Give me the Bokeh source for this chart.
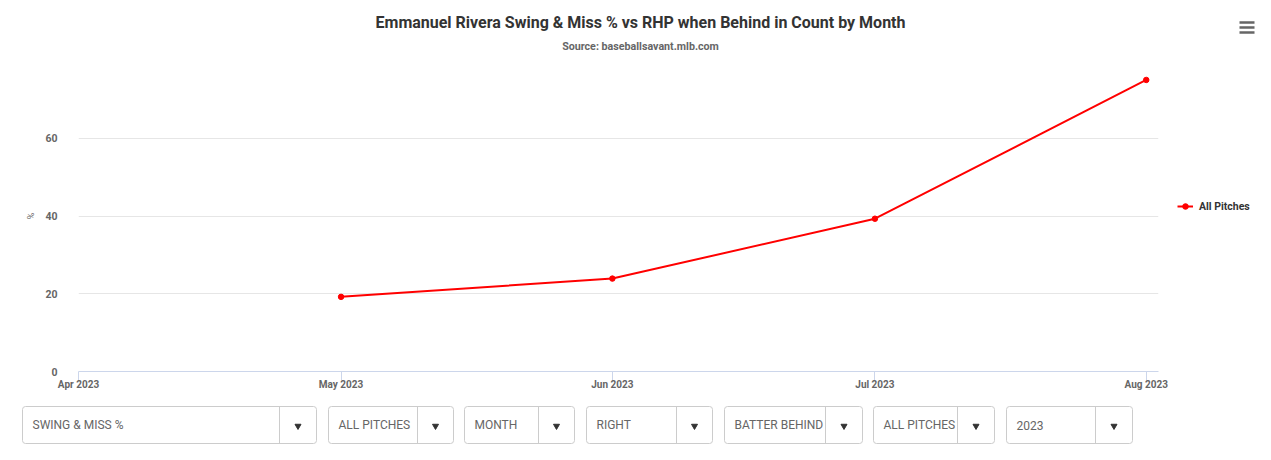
import pandas as pd
from bokeh.plotting import figure
from bokeh.models import (Range1d, FixedTicker, DatetimeTickFormatter, Label,
                          Legend, LegendItem, ColumnDataSource)
from bokeh.layouts import column
from bokeh.embed import file_html
from bokeh.resources import INLINE
from bokeh.core.properties import value

# ---------------- data ----------------
TITLE = "Emmanuel Rivera Swing & Miss % vs RHP when Behind in Count by Month"
SUBTITLE = "Source: baseballsavant.mlb.com"
SERIES_NAME = "All Pitches"
Y_LABEL = "%"
months = ["2023-05-01", "2023-06-01", "2023-07-01", "2023-08-01"]
swing_miss_pct = [19.2, 23.9, 39.3, 75.0]
x_tick_dates = ["2023-04-01", "2023-05-01", "2023-06-01", "2023-07-01", "2023-08-01"]
y_ticks = [0, 20, 40, 60]
control_labels = ["SWING & MISS %", "ALL PITCHES", "MONTH", "RIGHT",
                  "BATTER BEHIND", "ALL PITCHES", "2023"]

FONT = "Roboto"
W = 1255


def blank(fig):
    fig.axis.visible = False
    fig.grid.visible = False
    fig.outline_line_color = None
    fig.background_fill_color = "white"
    fig.border_fill_color = "white"
    fig.frame_align = False


# ---------------- header (title, subtitle, menu icon) ----------------
h = figure(width=W, height=60, output_backend="svg", toolbar_location=None,
           x_range=Range1d(0, W), y_range=Range1d(60, 0), min_border=0)
blank(h)
h.add_layout(Label(x=640, y=22, text=TITLE, text_align="center", text_baseline="middle",
                   text_font=FONT, text_font_size="16px", text_font_style="bold",
                   text_color="#333333"))
h.add_layout(Label(x=640, y=46, text=SUBTITLE, text_align="center", text_baseline="middle",
                   text_font=FONT, text_font_size="10.7px", text_font_style="bold",
                   text_color="#666666"))
h.segment(x0=[1239] * 3, x1=[1254] * 3, y0=[22, 27, 32], y1=[22, 27, 32],
          line_color="#666666", line_width=2.5)

# ---------------- main chart ----------------
src = ColumnDataSource(dict(x=pd.to_datetime(months), y=swing_miss_pct))

p = figure(frame_width=1080, frame_height=311, output_backend="svg",
           toolbar_location=None, x_axis_type="datetime",
           x_range=Range1d(pd.Timestamp(x_tick_dates[0]),
                           pd.Timestamp(x_tick_dates[-1]) + pd.Timedelta(days=1.4)),
           y_range=Range1d(0, 80),
           min_border_left=78, min_border_right=97,
           min_border_top=0, min_border_bottom=27)
p.outline_line_color = None
p.background_fill_color = "white"
p.border_fill_color = "white"
p.frame_align = False

p.xgrid.grid_line_color = None
p.ygrid.grid_line_color = "#e6e6e6"
p.ygrid.ticker = FixedTicker(ticks=y_ticks)

xa = p.xaxis[0]
xa.ticker = FixedTicker(ticks=[pd.Timestamp(d).timestamp() * 1000 for d in x_tick_dates])
fmt = "%b %Y"
xa.formatter = DatetimeTickFormatter(days=fmt, months=fmt, years=fmt, hours=fmt,
                                     minutes=fmt, seconds=fmt, milliseconds=fmt,
                                     microseconds=fmt, hourmin=fmt, minsec=fmt)
xa.axis_line_color = "#ccd6eb"
xa.major_tick_line_color = "#ccd6eb"
xa.major_tick_out = 9
xa.major_tick_in = 0
xa.minor_tick_line_color = None
xa.minor_tick_out = 0
xa.major_label_standoff = -2
xa.major_label_text_font = FONT
xa.major_label_text_font_size = "10px"
xa.major_label_text_font_style = "bold"
xa.major_label_text_color = "#666666"

ya = p.yaxis[0]
ya.ticker = FixedTicker(ticks=y_ticks)
ya.axis_line_color = None
ya.major_tick_line_color = None
ya.major_tick_out = 0
ya.major_tick_in = 0
ya.minor_tick_line_color = None
ya.minor_tick_out = 0
ya.major_label_standoff = 21
ya.major_label_text_font = FONT
ya.major_label_text_font_size = "10.5px"
ya.major_label_text_font_style = "bold"
ya.major_label_text_color = "#666666"
ya.axis_label = Y_LABEL
ya.axis_label_text_font = FONT
ya.axis_label_text_font_size = "9px"
ya.axis_label_text_font_style = "normal"
ya.axis_label_text_color = "#666666"
ya.axis_label_standoff = 6

ln = p.line("x", "y", source=src, line_color="#ff0000", line_width=2)
sc = p.scatter("x", "y", source=src, size=5.5, fill_color="#ff0000", line_color="#ff0000")

legend = Legend(items=[LegendItem(label=SERIES_NAME, renderers=[ln, sc])],
                location=(19, 158), orientation="vertical",
                label_text_font=FONT, label_text_font_size="10.5px",
                label_text_font_style="bold", label_text_color="#333333",
                glyph_width=16, glyph_height=14, label_standoff=6,
                padding=0, margin=0, border_line_color=None,
                background_fill_alpha=0)
p.add_layout(legend, "right")

# ---------------- controls strip ----------------
c = figure(width=W, height=52, output_backend="svg", toolbar_location=None,
           x_range=Range1d(0, W), y_range=Range1d(52, 0), min_border=0)
blank(c)

box_left = [22, 328, 464, 586, 724, 873, 1006]
box_right = [316, 453, 574, 712, 862, 994, 1132]
divider_x = [279, 417, 538, 676, 825, 957, 1095]
box_top, box_bottom = 8, 45
mid = (box_top + box_bottom) / 2
n = len(control_labels)

c.quad(left=box_left, right=box_right, top=[box_top] * n, bottom=[box_bottom] * n,
       fill_color="white", line_color="#cccccc", line_width=1, border_radius=3)
c.segment(x0=divider_x, x1=divider_x, y0=[box_top] * n, y1=[box_bottom] * n,
          line_color="#cccccc", line_width=1)
c.scatter(x=[(d + r) / 2 for d, r in zip(divider_x, box_right)], y=[mid + 1] * n,
          marker="inverted_triangle", size=6, fill_color="#333333", line_color="#333333")
c.text(x=[l + 10 for l in box_left], y=[mid] * n, text=control_labels,
       text_font=value(FONT), text_font_size="12px", text_color="#666666",
       text_baseline="middle", text_align="left")

layout = column(h, p, c, spacing=0)
open("out.html", "w").write(file_html(layout, INLINE))
